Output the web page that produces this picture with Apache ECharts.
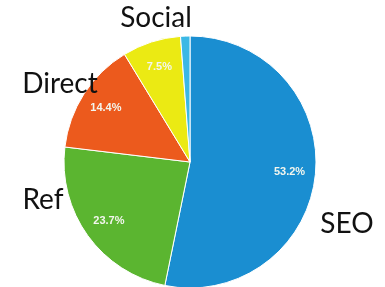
<!DOCTYPE html>
<html>
<head>
<meta charset="utf-8">
<script src="https://cdn.jsdelivr.net/npm/echarts@6/dist/echarts.min.js"></script>
<style>
  html, body { margin: 0; padding: 0; background: #fff; }
  #chart { width: 385px; height: 287px; }
</style>
</head>
<body>
<div id="chart"></div>
<script>
// traffic sources, percent of visits
const categories = ['SEO', 'Ref', 'Direct', 'Social', 'Other']
const shares = [53.2, 23.7, 14.4, 7.5, 1.2]
const showName = [true, true, true, true, false]

const colors = ['#1a8ed1', '#5bb530', '#ec5a1d', '#ebea13', '#3bb8e5']
// where the big category names sit (center of text)
const namePos = [[347, 224], [43, 200], [60, 84], [156, 18], [0, 0]]

const chart = echarts.init(document.getElementById('chart'))

const pieData = categories.map((name, i) => ({ name, value: shares[i] }))

const nameTexts = categories
  .map((name, i) => ({ name, i }))
  .filter((d) => showName[d.i])
  .map((d) => ({
    type: 'text',
    z: 100,
    x: namePos[d.i][0],
    y: namePos[d.i][1],
    style: {
      text: d.name,
      fontFamily: 'Lato',
      fontSize: 28,
      fill: '#111',
      align: 'center',
      verticalAlign: 'middle'
    }
  }))

chart.setOption({
  animation: false,
  color: colors,
  graphic: nameTexts,
  series: [
    {
      type: 'pie',
      center: [190, 162],
      radius: 126,
      startAngle: 90,
      silent: true,
      itemStyle: { borderColor: '#fff', borderWidth: 1 },
      label: { show: false },
      labelLine: { show: false },
      data: pieData
    },
    {
      // transparent ring, only used to put the % labels at ~3/4 radius
      type: 'pie',
      center: [190, 162],
      radius: [68, 126],
      startAngle: 90,
      silent: true,
      itemStyle: { color: 'rgba(0,0,0,0)' },
      label: {
        show: true,
        position: 'inside',
        formatter: (p) => (showName[p.dataIndex] ? p.value.toFixed(1) + '%' : ''),
        fontFamily: 'Liberation Sans',
        fontWeight: 'bold',
        fontSize: 11,
        color: '#f3f6ee'
      },
      labelLine: { show: false },
      data: pieData
    }
  ]
})
</script>
</body>
</html>
